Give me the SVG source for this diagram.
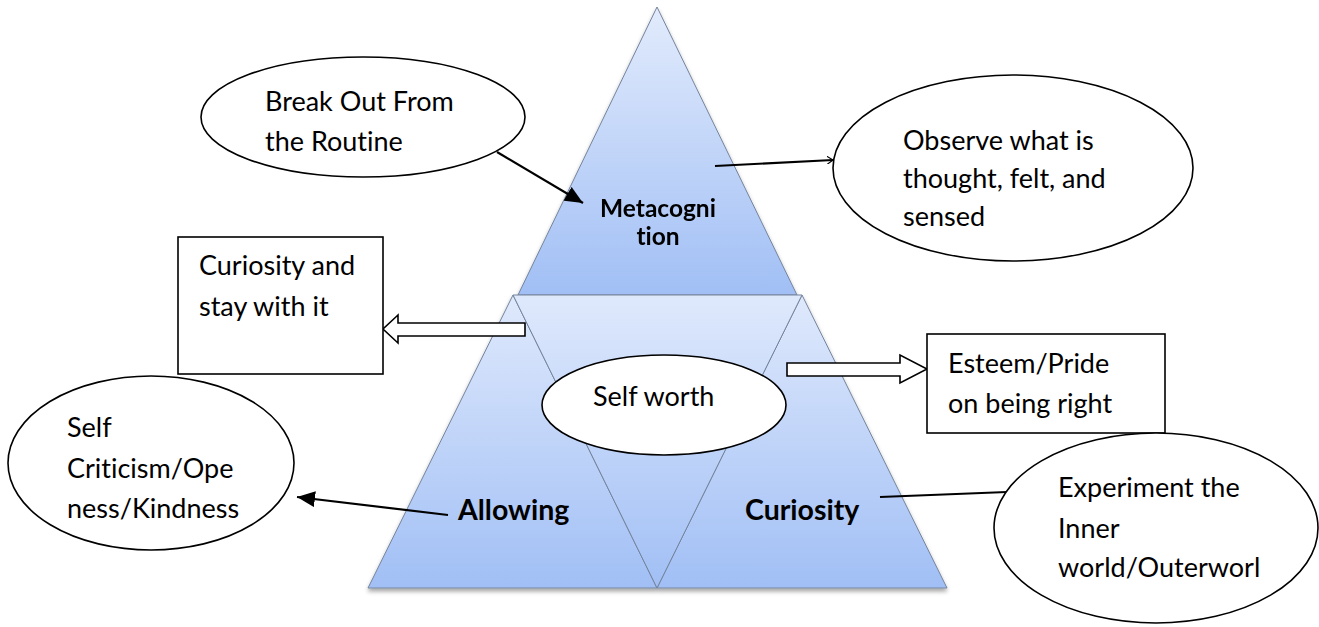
<svg xmlns="http://www.w3.org/2000/svg" width="1319" height="627" viewBox="0 0 1319 627">
<style>
text{font-variant-ligatures:none;font-feature-settings:"liga" 0}
.t{font-family:Lato,"Open Sans","Liberation Sans",sans-serif;font-size:27px;fill:#000}
.b{font-family:Lato,"Open Sans","Liberation Sans",sans-serif;font-weight:bold;fill:#000}
.tri{stroke:#74849c;stroke-width:1;stroke-linejoin:round}
.shape{fill:#fff;stroke:#000;stroke-width:1.6}
.conn{stroke:#000;stroke-width:2.2;fill:none}
</style>
<defs>
<linearGradient id="gTop" x1="0" y1="0" x2="0" y2="1">
<stop offset="0" stop-color="#e2ebfc"/><stop offset="1" stop-color="#a1bff5"/>
</linearGradient>
<linearGradient id="gBot" x1="0" y1="0" x2="0" y2="1">
<stop offset="0" stop-color="#dfe9fc"/><stop offset="1" stop-color="#a1bff5"/>
</linearGradient>
<filter id="sh" x="-10%" y="-10%" width="120%" height="130%">
<feDropShadow dx="0" dy="3" stdDeviation="2" flood-color="#000" flood-opacity="0.35"/>
</filter>
<marker id="ah" markerWidth="20" markerHeight="16" refX="18" refY="8" orient="auto" markerUnits="userSpaceOnUse">
<path d="M0,0 L18,8 L0,16 Z" fill="#000"/>
</marker>
<marker id="ahs" markerWidth="8" markerHeight="8" refX="6" refY="4" orient="auto" markerUnits="userSpaceOnUse">
<path d="M0,0 L6,4 L0,8" fill="none" stroke="#000" stroke-width="1.2"/>
</marker>
</defs>

<g id="pyramid" filter="url(#sh)">
<g id="metacognition">
<polygon class="tri" points="657,7 518,295 797,295" fill="url(#gTop)"/>
<text class="b" font-size="24.5" x="658" y="217" text-anchor="middle">Metacogni</text>
<text class="b" font-size="24.5" x="658" y="245" text-anchor="middle">tion</text>
</g>
<g id="allowing">
<polygon class="tri" points="513,295 368,588 657,588" fill="url(#gBot)"/>
</g>
<g id="curiosity">
<polygon class="tri" points="802,295 657,588 947,588" fill="url(#gBot)"/>
</g>
<g id="middle">
<polygon class="tri" points="513,295 802,295 657,588" fill="url(#gBot)"/>
</g>
</g>
<text class="b" font-size="28.5" x="458" y="520">Allowing</text>
<text class="b" font-size="28.5" x="745" y="520">Curiosity</text>

<g id="connectors">
<line class="conn" x1="497" y1="152" x2="583" y2="203" marker-end="url(#ah)"/>
<line class="conn" x1="715" y1="166" x2="833" y2="160" marker-end="url(#ahs)"/>
<line class="conn" x1="448" y1="515" x2="297" y2="497" marker-end="url(#ah)"/>
<line class="conn" x1="880" y1="497" x2="1007" y2="492"/>
<path class="shape" d="M525,323 L398,323 L398,315 L383,329 L398,343 L398,336 L525,336 Z"/>
<path class="shape" d="M787,363 L900,363 L900,355 L927,369 L900,383 L900,376 L787,376 Z"/>
</g>

<g id="break-out">
<ellipse class="shape" cx="363" cy="117" rx="162" ry="60"/>
<text class="t" x="265" y="111">Break Out From</text>
<text class="t" x="265" y="151">the Routine</text>
</g>
<g id="observe">
<ellipse class="shape" cx="1013" cy="168" rx="180" ry="93"/>
<text class="t" x="903" y="150">Observe what is</text>
<text class="t" x="903" y="188">thought, felt, and</text>
<text class="t" x="903" y="226">sensed</text>
</g>
<g id="curiosity-box">
<rect class="shape" x="178" y="237" width="205" height="137"/>
<text class="t" x="199" y="275">Curiosity and</text>
<text class="t" x="199" y="316">stay with it</text>
</g>
<g id="esteem-box">
<rect class="shape" x="927" y="334" width="238" height="99"/>
<text class="t" x="948" y="373">Esteem/Pride</text>
<text class="t" x="948" y="413">on being right</text>
</g>
<g id="self-worth">
<ellipse class="shape" cx="664" cy="405" rx="122" ry="50"/>
<text class="t" x="593" y="406">Self worth</text>
</g>
<g id="self-criticism">
<ellipse class="shape" cx="151" cy="463" rx="143" ry="87"/>
<text class="t" x="67" y="437">Self</text>
<text class="t" x="67" y="478">Criticism/Ope</text>
<text class="t" x="67" y="518">ness/Kindness</text>
</g>
<g id="experiment">
<ellipse class="shape" cx="1156" cy="528" rx="162" ry="95"/>
<text class="t" x="1058" y="497">Experiment the</text>
<text class="t" x="1058" y="538">Inner</text>
<text class="t" x="1058" y="577">world/Outerworl</text>
</g>
</svg>
